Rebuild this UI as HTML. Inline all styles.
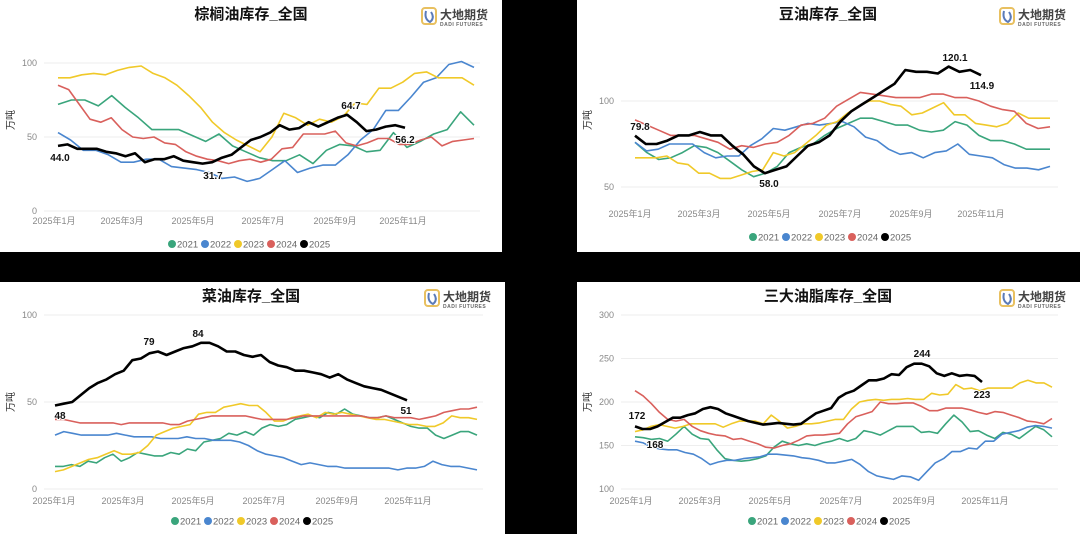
<!DOCTYPE html>
<html><head><meta charset="utf-8">
<style>
body{margin:0;width:1080px;height:534px;background:#000;position:relative;overflow:hidden;font-family:"Liberation Sans","Noto Sans CJK SC",sans-serif}
.p{position:absolute;background:#fff}
svg{display:block}
</style></head><body>
<div class="p" style="left:0;top:0;width:502px;height:252px"><svg id="s1" width="502" height="252"></svg></div>
<div class="p" style="left:577px;top:0;width:503px;height:252px"><svg id="s2" width="503" height="252"></svg></div>
<div class="p" style="left:0;top:282px;width:505px;height:252px"><svg id="s3" width="505" height="252"></svg></div>
<div class="p" style="left:577px;top:282px;width:503px;height:252px"><svg id="s4" width="503" height="252"></svg></div>
<script>
var C={g:"#3aa57c",b:"#4a86cf",y:"#f0c929",r:"#d9605c",k:"#000"};
function draw(id,c){
 var s='',W=+document.getElementById(id).getAttribute('width');
 function Y(v){return c.y0+(v-c.v0)*(c.y1-c.y0)/(c.v1-c.v0);}
 s+='<text x="'+c.tx+'" y="19" text-anchor="middle" font-size="15" font-weight="bold" fill="#111">'+c.title+'</text>';
 var lx=W-80;
 s+='<rect x="'+lx+'" y="8" width="14" height="16" rx="3" fill="none" stroke="#e8c060" stroke-width="2"/><path d="M'+(lx+4)+' 11 q-2 8 4 11 q5 -4 1 -10" fill="none" stroke="#5b7bb8" stroke-width="2"/>';
 s+='<text x="'+(lx+18)+'" y="19" font-size="12" font-weight="bold" fill="#444">大地期货</text><text x="'+(lx+18)+'" y="26" font-size="5" font-weight="bold" fill="#666" letter-spacing="0.5">DADI FUTURES</text>';
 c.ticks.forEach(function(t){var y=Y(t);s+='<line x1="44" x2="'+(W-22)+'" y1="'+y+'" y2="'+y+'" stroke="#eee"/><text x="37" y="'+(y+3)+'" text-anchor="end" font-size="9" fill="#888">'+t+'</text>';});
 s+='<text transform="translate(14,'+c.ly+') rotate(-90)" text-anchor="middle" font-size="10" fill="#333">万吨</text>';
 var m=['1月','3月','5月','7月','9月','11月'];
 c.mx.forEach(function(x,i){s+='<text x="'+x+'" y="'+c.my+'" text-anchor="middle" font-size="9" fill="#888">2025年'+m[i]+'</text>';});
 var L=[['g','2021'],['b','2022'],['y','2023'],['r','2024'],['k','2025']];
 L.forEach(function(l,i){var x=c.lgx+i*33;s+='<circle cx="'+x+'" cy="'+c.lgy+'" r="4" fill="'+C[l[0]]+'"/><text x="'+(x+5)+'" y="'+(c.lgy+3.5)+'" font-size="9.5" fill="#666">'+l[1]+'</text>';});
 ['g','b','y','r','k'].forEach(function(k){var d=c.d[k],x1=k=='k'?c.xk:c.xe,n=d.length,p=[];
  for(var i=0;i<n;i++)p.push((c.xs+(x1-c.xs)*i/(n-1)).toFixed(1)+','+Y(d[i]).toFixed(1));
  s+='<polyline points="'+p.join(' ')+'" fill="none" stroke="'+C[k]+'" stroke-width="'+(k=='k'?2.6:1.6)+'" stroke-linejoin="round"/>';});
 c.lab.forEach(function(l){s+='<text x="'+l[0]+'" y="'+l[1]+'" text-anchor="middle" font-size="10" font-weight="bold" fill="#111" stroke="#fff" stroke-width="2" paint-order="stroke">'+l[2]+'</text>';});
 document.getElementById(id).innerHTML=s;
}
draw('s1',{title:'棕榈油库存_全国',tx:251,v0:0,v1:100,y0:211,y1:63,ticks:[0,50,100],ly:120,xs:58,xe:474,xk:405,mx:[54,122,193,263,335,403],my:224,lgx:172,lgy:244,
d:{g:[72,75,75,71,78,70,63,55,55,55,51,47,52,44,40,36,34,34,38,32,41,45,44,40,41,53,43,47,52,55,67,58],
b:[53,48,41,41,38,33,33,35,35,30,29,28,26,22,23,20,22,28,34,26,29,31,31,38,48,55,68,68,77,87,90,99,101,97],
y:[90,90,92,93,92,95,97,98,93,90,85,78,70,60,53,48,44,40,50,66,63,58,62,60,64,73,72,83,83,87,93,94,90,90,90,85],
r:[85,82,72,62,60,63,55,50,49,50,46,45,40,37,35,34,32,34,35,33,35,42,43,52,52,52,54,46,44,46,49,49,45,45,48,50,44,47,48,49],
k:[44,45,42,42,42,40,39,37,39,33,35,35,37,34,33,32,33,36,38,43,48,50,53,58,55,56,60,57,60,63,65,60,54,55,57,58,56.2]},
lab:[[60,161,'44.0'],[213,179,'31.7'],[351,109,'64.7'],[405,143,'56.2']]});
draw('s2',{title:'豆油库存_全国',tx:251,v0:50,v1:100,y0:187,y1:101,ticks:[50,100],ly:120,xs:58,xe:473,xk:404,mx:[53,122,192,263,334,404],my:217,lgx:176,lgy:237,
d:{g:[76,70,66,67,70,74,73,70,65,60,56,58,62,70,73,75,80,84,87,90,90,88,86,86,83,82,83,88,86,80,77,77,75,72,72,72],
b:[76,71,72,75,75,75,70,67,68,68,74,78,84,83,85,87,86,87,88,85,79,77,72,69,70,67,70,71,75,69,68,67,63,61,61,60,62],
y:[67,67,67,68,64,63,58,58,55,55,57,59,60,70,68,70,75,80,86,88,93,97,100,100,98,97,92,93,96,99,92,92,87,86,85,87,93,90,90,90],
r:[89,86,83,80,80,80,78,76,72,74,73,75,76,80,86,87,90,97,101,105,104,103,102,102,102,104,104,102,102,100,97,95,94,87,84,85],
k:[79.8,75,75,77,80,80,82,80,80,74,69,62,58,60,62,68,74,76,80,88,94,98,102,106,110,118,117,117,116,120,117,118,115]},
lab:[[63,130,'79.8'],[192,187,'58.0'],[378,61,'120.1'],[405,89,'114.9']]});
draw('s3',{title:'菜油库存_全国',tx:251,v0:0,v1:100,y0:207,y1:33,ticks:[0,50,100],ly:120,xs:55,xe:477,xk:407,mx:[54,123,193,264,337,408],my:222,lgx:175,lgy:239,
d:{g:[13,13,14,13,16,15,18,20,16,18,21,20,19,19,21,20,23,22,27,28,29,32,31,33,31,35,37,36,37,40,41,42,41,44,43,46,43,42,41,41,42,40,38,36,35,35,31,29,31,33,33,31],
b:[31,33,32,31,31,31,31,32,31,30,30,30,29,29,29,30,29,29,28,28,28,27,25,22,20,19,18,16,14,15,14,13,13,12,12,12,12,12,12,11,12,12,13,16,14,13,13,12,11],
y:[10,11,13,15,17,18,20,22,20,20,21,25,31,33,35,36,37,43,44,44,47,48,49,48,48,44,39,39,41,42,43,41,44,43,44,43,42,41,40,40,39,38,37,37,36,36,38,42,41,41,40],
r:[40,40,39,38,38,38,38,38,37,38,38,38,38,38,37,37,39,40,41,42,42,42,42,42,41,40,40,40,40,41,42,42,42,42,42,42,42,42,41,41,42,41,41,41,40,41,42,44,45,46,46,47],
k:[48,49,50,54,58,61,63,66,68,74,75,78,79,77,79,81,82,84,84,82,79,79,77,76,77,73,71,70,68,68,67,66,64,66,63,61,59,58,57,55,53,51]},
lab:[[60,137,'48'],[149,63,'79'],[198,55,'84'],[406,132,'51']]});
draw('s4',{title:'三大油脂库存_全国',tx:251,v0:100,v1:300,y0:207,y1:33,ticks:[100,150,200,250,300],ly:120,xs:58,xe:475,xk:405,mx:[54,123,193,264,337,408],my:222,lgx:175,lgy:239,
d:{g:[160,159,157,158,155,163,172,163,158,157,145,135,133,132,133,135,138,148,155,152,150,152,150,153,155,158,155,158,167,165,162,167,172,172,172,165,166,164,175,185,177,166,167,162,158,165,163,158,165,172,168,160],
b:[155,153,148,146,145,145,142,140,135,128,131,133,133,135,136,137,140,140,139,138,136,135,133,130,130,132,134,128,120,115,113,111,115,114,110,120,130,135,143,143,147,146,155,155,163,165,167,171,173,172,170],
y:[166,168,172,174,172,170,172,175,175,175,175,171,175,178,178,178,175,185,178,170,172,175,175,176,178,180,180,192,200,202,203,202,203,203,204,203,203,210,208,209,220,215,216,213,216,216,216,216,222,225,222,222,217],
r:[213,207,198,188,180,178,180,172,167,164,162,161,157,158,155,152,148,147,150,152,156,161,162,162,163,164,175,183,186,189,200,198,198,199,199,195,190,190,193,193,193,191,188,186,189,188,185,182,178,177,175,181],
k:[172,169,169,172,177,182,182,185,187,192,194,192,187,184,181,178,176,174,175,176,175,174,175,181,187,190,193,205,210,213,219,225,225,227,232,231,240,244,244,241,233,230,233,230,231,230,223]},
lab:[[60,137,'172'],[78,166,'168'],[345,75,'244'],[405,116,'223']]});
</script>
</body></html>
